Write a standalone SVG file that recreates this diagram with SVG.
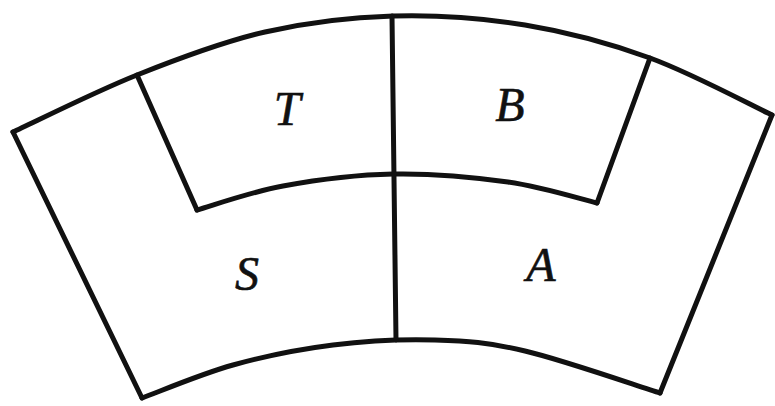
<svg xmlns="http://www.w3.org/2000/svg" width="775" height="406" viewBox="0 0 775 406">
<style>
.ln{fill:none;stroke:#111;stroke-width:5;stroke-linecap:round;stroke-linejoin:round}
.lb{font-family:"Liberation Serif","DejaVu Serif",serif;font-style:italic;font-size:48px;fill:#111;stroke:#111;stroke-width:0.6;text-anchor:middle}
</style>
<rect width="775" height="406" fill="#fff"/>
<g id="connectors">
<path class="ln" d="M13,132 C33.7,122.5 95,91.7 137,75 C179,58.3 222.3,41.8 265,32 C307.7,22.2 349.7,17.2 393,16 C436.3,14.8 482.2,18 525,25 C567.8,32 608.8,43 650,58 C691.2,73 751.7,105.5 772,115"/>
<path class="ln" d="M197,210 C211.3,206 250.3,192 283,186 C315.7,180 355.5,174.7 393,174 C430.5,173.3 474,177.2 508,182 C542,186.8 582.2,199.5 597,203"/>
<path class="ln" d="M142,398 C157.2,392.5 201.2,373.8 233,365 C264.8,356.2 299.3,349.2 333,345 C366.7,340.8 403,339 435,340 C467,341 487.5,342.2 525,351 C562.5,359.8 637.5,386 660,393"/>
<path class="ln" d="M13,132 L142,398"/>
<path class="ln" d="M772,115 L660,393"/>
<path class="ln" d="M137,75 L197,210"/>
<path class="ln" d="M650,58 L597,203"/>
<path class="ln" d="M392,16 L396,340"/>
</g>
<g id="T"><text class="lb" x="287" y="125">T</text></g>
<g id="B"><text class="lb" x="510" y="121">B</text></g>
<g id="S"><text class="lb" x="247" y="290">S</text></g>
<g id="A"><text class="lb" x="541" y="281">A</text></g>
</svg>
